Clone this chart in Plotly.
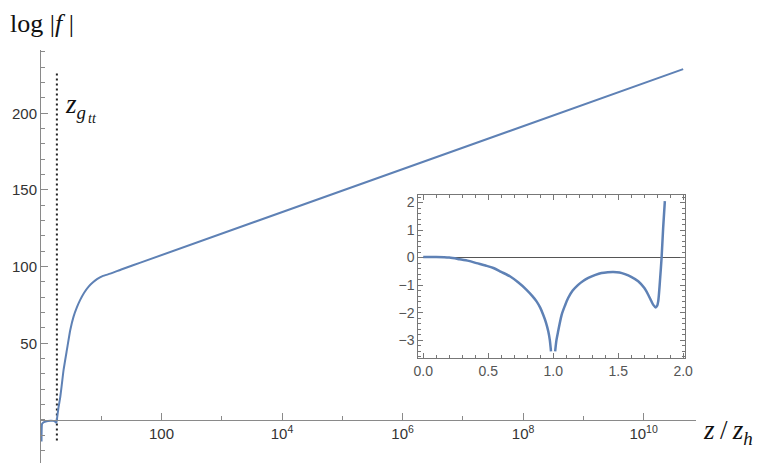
import plotly.graph_objects as go

# main curve: log|f| against z/z_h (log axis)
main_z = [1.02, 1.04, 1.07, 1.12, 1.2, 1.3, 1.45, 1.6, 1.7, 1.77, 1.79, 1.81,
          1.834, 1.86, 1.95, 2.09, 2.23, 2.37, 2.69, 3.06, 3.47, 3.95, 4.47,
          5.2, 6.17, 7.3, 8.5, 10.5, 14.1, 22.0, 44.7, 4.54e10]
main_logf = [-14.0, -2.6, -2.0, -1.45, -1.0, -0.7, -0.52, -0.62, -1.0, -1.65,
             -1.8, -1.3, 0.0, 2.0, 8.0, 15.0, 24.0, 32.6, 45.7, 58.7, 67.4,
             73.5, 78.3, 83.0, 87.0, 89.8, 91.8, 93.8, 95.4, 98.3, 102.6, 228.8]

# inset: linear z axis, 0..2
inset_z = [0.0, 0.1, 0.2, 0.28, 0.35, 0.41, 0.48, 0.54, 0.6, 0.667, 0.73,
           0.795, 0.84, 0.872, 0.9, 0.923, 0.945, 0.962, 0.974, 0.983, None,
           1.015, 1.025, 1.038, 1.065, 1.09, 1.115, 1.15, 1.192, 1.23, 1.27,
           1.32, 1.372, 1.42, 1.462, 1.51, 1.552, 1.6, 1.654, 1.7, 1.731,
           1.755, 1.769, 1.788, 1.8, 1.808, 1.815, 1.821, 1.834, 1.846, 1.859]
inset_logf = [0.02, 0.02, 0.0, -0.06, -0.12, -0.2, -0.29, -0.38, -0.52, -0.68,
              -0.9, -1.17, -1.4, -1.59, -1.82, -2.08, -2.37, -2.68, -3.0,
              -3.41, None, -3.41, -3.0, -2.68, -2.08, -1.75, -1.47, -1.2,
              -0.99, -0.85, -0.74, -0.64, -0.56, -0.53, -0.52, -0.54, -0.6,
              -0.7, -0.86, -1.1, -1.35, -1.58, -1.71, -1.81, -1.75, -1.59,
              -1.25, -0.87, 0.0, 1.08, 2.05]

z_gtt = 1.834
gtt_span = [-13.5, 227.0]

x_major = [1e2, 1e4, 1e6, 1e8, 1e10]
x_major_text = ["100", "10<sup>4</sup>", "10<sup>6</sup>", "10<sup>8</sup>",
                "10<sup>10</sup>"]
x_minor = [1e1, 1e3, 1e5, 1e7, 1e9]
y_major = [50, 100, 150, 200]

inset_xt = [0.0, 0.5, 1.0, 1.5, 2.0]
inset_xt_text = ["0.0", "0.5", "1.0", "1.5", "2.0"]
inset_yt = [-3, -2, -1, 0, 1, 2]

BLUE = "#5E81B5"
AXIS = "#8a8a8a"
TICKFONT = dict(family="Liberation Sans, Arial, sans-serif", size=15, color="#333")
INSETFONT = dict(family="Liberation Sans, Arial, sans-serif", size=14, color="#555")
SERIF = "Liberation Serif, Times New Roman, serif"

Y0, Y1 = -28.1, 241.3

fig = go.Figure()

fig.add_trace(go.Scatter(
    x=[z_gtt, z_gtt], y=gtt_span, mode="lines",
    line=dict(color="#222", width=2, dash="2px,3px"),
    hoverinfo="skip", showlegend=False,
))
fig.add_trace(go.Scatter(
    x=main_z, y=main_logf, mode="lines",
    line=dict(color=BLUE, width=2, shape="spline", smoothing=0.5),
    showlegend=False,
))
fig.add_trace(go.Scatter(
    x=inset_z, y=inset_logf, mode="lines", connectgaps=False,
    line=dict(color=BLUE, width=2.5, shape="spline", smoothing=0.8),
    showlegend=False, xaxis="x2", yaxis="y2",
))

# the page body adds an 8px offset, so the figure is 8px smaller each way
fig.update_layout(
    width=760, height=455,
    margin=dict(l=33, r=72, t=42, b=0, autoexpand=False),
    paper_bgcolor="white", plot_bgcolor="white",
    xaxis=dict(
        type="log", range=[0, 10.87], domain=[0, 1], automargin=False,
        anchor="free", position=-Y0 / (Y1 - Y0),
        showline=True, linecolor=AXIS, linewidth=1,
        showgrid=False, zeroline=False,
        tickmode="array", tickvals=x_major, ticktext=x_major_text,
        ticks="inside", ticklen=7, tickcolor=AXIS, tickfont=TICKFONT,
        minor=dict(tickmode="array", tickvals=x_minor, ticks="inside",
                   ticklen=4, tickcolor=AXIS),
    ),
    yaxis=dict(
        range=[Y0, Y1], domain=[0, 1], automargin=False,
        showline=True, linecolor=AXIS, linewidth=1,
        showgrid=False, zeroline=False,
        tickmode="array", tickvals=y_major,
        ticks="inside", ticklen=7, tickcolor=AXIS, tickfont=TICKFONT,
        minor=dict(dtick=10, tick0=0, ticks="inside", ticklen=4, tickcolor=AXIS),
    ),
    xaxis2=dict(
        domain=[0.576, 0.983], range=[-0.038, 2.013], anchor="y2",
        automargin=False,
        showline=True, mirror="allticks", linecolor="#777", linewidth=1,
        showgrid=False, zeroline=False,
        tickmode="array", tickvals=inset_xt, ticktext=inset_xt_text,
        ticks="inside", ticklen=5, tickcolor="#777", tickfont=INSETFONT,
        minor=dict(dtick=0.1, tick0=0, ticks="inside", ticklen=3, tickcolor="#777"),
    ),
    yaxis2=dict(
        domain=[0.2535, 0.650], range=[-3.66, 2.29], anchor="x2",
        automargin=False,
        showline=True, mirror="allticks", linecolor="#777", linewidth=1,
        showgrid=False, zeroline=True, zerolinecolor="#555", zerolinewidth=1,
        tickmode="array", tickvals=inset_yt,
        ticks="inside", ticklen=5, tickcolor="#777", tickfont=INSETFONT,
        minor=dict(dtick=0.2, tick0=0, ticks="inside", ticklen=3, tickcolor="#777"),
    ),
    annotations=[
        dict(text="log |<i>f</i> |", xref="paper", yref="paper",
             x=-0.05, y=1.063, xanchor="left", yanchor="middle", showarrow=False,
             font=dict(family=SERIF, size=26, color="#111")),
        dict(text="<i>z</i>\u2009/\u2009<i>z<sub>h</sub></i>", xref="paper", yref="paper",
             x=1.008, y=0.075, xanchor="left", yanchor="middle", showarrow=False,
             font=dict(family=SERIF, size=27, color="#111")),
        dict(text="<i>z<sub>g</sub></i>", xref="paper", yref="paper",
             x=0.033, y=0.865, xanchor="left", yanchor="middle", showarrow=False,
             font=dict(family=SERIF, size=27, color="#111")),
        dict(text="<i>tt</i>", xref="paper", yref="paper",
             x=0.069, y=0.834, xanchor="left", yanchor="middle", showarrow=False,
             font=dict(family=SERIF, size=14, color="#111")),
    ],
)

fig.write_html("out.html")
